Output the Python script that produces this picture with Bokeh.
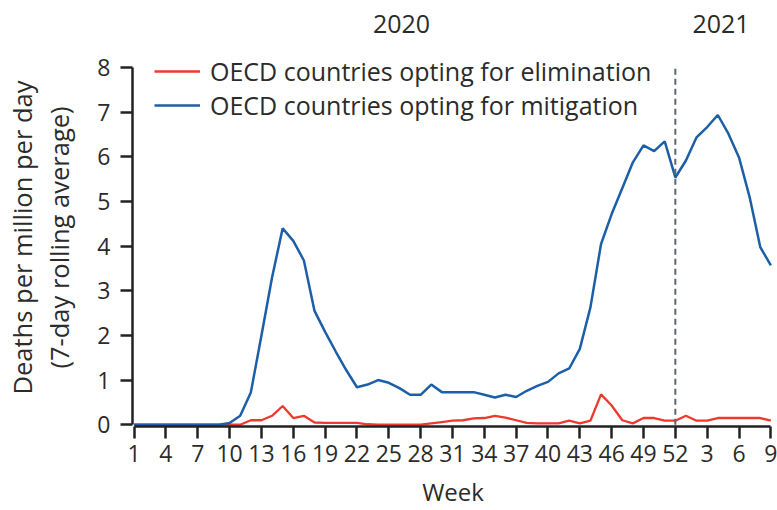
from bokeh.plotting import figure
from bokeh.models import Range1d, FixedTicker, LinearAxis, Legend, LegendItem
from bokeh.embed import file_html
from bokeh.resources import INLINE

# Weekly deaths per million per day (7-day rolling average), week 1 of 2020 to week 9 of 2021
weeks_2020 = list(range(1, 53))
weeks_2021 = list(range(1, 10))
week_seq = list(range(1, len(weeks_2020) + len(weeks_2021) + 1))

elimination = [
    0, 0, 0, 0, 0, 0, 0, 0, 0, 0,
    0, 0.10, 0.10, 0.20, 0.42, 0.15, 0.20, 0.05, 0.04, 0.04,
    0.04, 0.04, 0.01, 0, 0, 0, 0, 0, 0.03, 0.06,
    0.09, 0.10, 0.14, 0.15, 0.20, 0.16, 0.10, 0.04, 0.03, 0.03,
    0.03, 0.09, 0.03, 0.09, 0.68, 0.43, 0.10, 0.03, 0.15, 0.15,
    0.09, 0.09, 0.20, 0.09, 0.09, 0.15, 0.15, 0.15, 0.15, 0.15,
    0.09,
]
mitigation = [
    0, 0, 0, 0, 0, 0, 0, 0, 0, 0.04,
    0.20, 0.72, 2.00, 3.30, 4.40, 4.12, 3.68, 2.55, 2.08, 1.64,
    1.22, 0.84, 0.90, 1.00, 0.94, 0.82, 0.67, 0.67, 0.90, 0.73,
    0.73, 0.73, 0.73, 0.67, 0.61, 0.67, 0.62, 0.76, 0.87, 0.96,
    1.15, 1.26, 1.70, 2.63, 4.05, 4.72, 5.30, 5.88, 6.26, 6.13,
    6.35, 5.54, 5.92, 6.44, 6.67, 6.94, 6.52, 5.99, 5.10, 3.98,
    3.57,
]

tick_weeks = week_seq[::3]
tick_labels = {w: str(weeks_2020[w - 1]) if w <= 52 else str(weeks_2021[w - 53]) for w in tick_weeks}
year_end_week = 52
year_labels = {26.2: "2020", 56.3: "2021"}
y_ticks = [0, 1, 2, 3, 4, 5, 6, 7, 8]

FONT = "Open Sans"
TEXT = "#2b2b2b"
RED = "#ec3a2f"
BLUE = "#1c5fa8"

p = figure(
    width=777, height=510,
    x_range=Range1d(0.85, 61.25), y_range=Range1d(-0.04, 8.43),
    output_backend="svg", toolbar_location=None,
    min_border_left=132, min_border_right=4, min_border_top=48, min_border_bottom=84,
)
p.outline_line_color = None
p.xgrid.visible = False
p.ygrid.visible = False
p.background_fill_color = "white"
p.border_fill_color = "white"

r_elim = p.line(week_seq, elimination, line_color=RED, line_width=2.3)
r_mit = p.line(week_seq, mitigation, line_color=BLUE, line_width=2.5)

# dashed marker at the turn of the year, spanning the y-axis extent
p.segment(x0=[year_end_week], y0=[y_ticks[0]], x1=[year_end_week], y1=[y_ticks[-1]],
          line_color="#5a6670", line_width=2, line_dash="6 4")

xa = p.xaxis[0]
xa.ticker = FixedTicker(ticks=tick_weeks)
xa.major_label_overrides = tick_labels
xa.bounds = (1, 61)
xa.axis_label = "Week"
ya = p.yaxis[0]
ya.ticker = FixedTicker(ticks=y_ticks)
ya.bounds = (0, 8)
ya.axis_label = "Deaths per million per day\n(7-day rolling average)"
ya.axis_label_text_line_height = 1.1

for ax in (xa, ya):
    ax.axis_line_color = "#222222"
    ax.axis_line_width = 2.5
    ax.major_tick_line_color = "#222222"
    ax.major_tick_line_width = 2.5
    ax.major_tick_out = 12
    ax.major_tick_in = 0
    ax.minor_tick_line_color = None
    ax.major_label_text_font = FONT
    ax.major_label_text_font_size = "23px"
    ax.major_label_text_color = TEXT
    ax.axis_label_text_font = FONT
    ax.axis_label_text_font_style = "normal"
    ax.axis_label_text_color = TEXT
xa.axis_label_text_font_size = "24px"
ya.axis_label_text_font_size = "25.5px"
xa.major_label_standoff = 6
xa.axis_label_standoff = 10
ya.major_label_standoff = 10
ya.axis_label_standoff = 18

# year labels along the top
top = LinearAxis(ticker=FixedTicker(ticks=list(year_labels.keys())),
                 major_label_overrides=year_labels)
top.axis_line_color = None
top.major_tick_line_color = None
top.minor_tick_line_color = None
top.major_tick_out = 0
top.major_tick_in = 0
top.major_label_standoff = 16
top.major_label_text_font = FONT
top.major_label_text_font_size = "25px"
top.major_label_text_color = TEXT
p.add_layout(top, "above")

legend = Legend(
    items=[LegendItem(label="OECD countries opting for elimination", renderers=[r_elim]),
           LegendItem(label="OECD countries opting for mitigation", renderers=[r_mit])],
    location=(22, 304), orientation="vertical",
    glyph_width=46, glyph_height=34, label_height=34, spacing=0, padding=0, margin=0,
    label_standoff=10, border_line_color=None, background_fill_alpha=0,
    label_text_font=FONT, label_text_font_size="25px", label_text_color=TEXT,
)
p.add_layout(legend)

open("out.html", "w").write(file_html(p, INLINE))
